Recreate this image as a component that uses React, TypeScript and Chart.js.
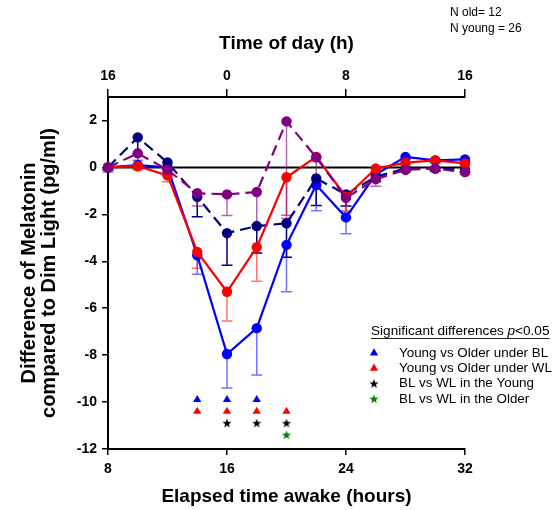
import { useEffect, useRef } from 'react';
import { Chart, registerables } from 'chart.js';

Chart.register(...registerables);

const FONT = "'Liberation Sans', Arial, Helvetica, sans-serif";

// Elapsed time awake (hours)
const hours = [8, 10, 12, 14, 16, 18, 20, 22, 24, 26, 28, 30, 32];

// Series (difference vs dim light, pg/ml) and one-sided (downward) error bars
const youngBL = [0, 0.1, 0.0, -3.75, -7.95, -6.85, -3.3, -0.75, -2.13, -0.3, 0.45, 0.3, 0.34];
const youngBLErr = [0.2, 0.1, 0.2, 0.8, 1.45, 2.0, 2.0, 1.1, 0.7, 0.2, 0.1, 0.1, 0.1];
const youngWL = [0, 0.05, -0.34, -3.6, -5.3, -3.4, -0.42, 0.45, -1.25, -0.05, 0.2, 0.3, 0.17];
const youngWLErr = [0.1, 0.15, 0.27, 0.7, 1.25, 1.45, 1.75, 0.2, 0.6, 0.15, 0.1, 0.1, 0.1];
const olderBL = [0, 1.28, 0.21, -1.25, -2.8, -2.5, -2.38, -0.47, -1.15, -0.4, -0.05, -0.05, -0.1];
const olderBLErr = [0.1, 0.7, 0.3, 0.85, 1.37, 1.15, 1.45, 1.15, 0.5, 0.2, 0.1, 0.1, 0.1];
const olderWL = [0, 0.6, -0.1, -1.1, -1.15, -1.05, 1.96, 0.43, -1.3, -0.5, -0.1, -0.05, -0.2];
const olderWLErr = [0.1, 0.3, 0.2, 0.55, 0.9, 1.4, 4.0, 1.0, 0.6, 0.3, 0.1, 0.1, 0.1];

// Significance markers (p<0.05)
const sigYoungOlderBLHours = [14, 16, 18];
const sigYoungOlderBLLevel = -9.9;
const sigYoungOlderWLHours = [14, 16, 18, 20];
const sigYoungOlderWLLevel = -10.4;
const sigBLWLYoungHours = [16, 18, 20];
const sigBLWLYoungLevel = -10.9;
const sigBLWLOlderHours = [20];
const sigBLWLOlderLevel = -11.4;

// Axis ticks
const xTickStep = 8;
const yTickStep = 2;
const yMin = -12;
const yMax = 3;
const yTickTop = 2;

const legendItems = [
  { label: 'Young vs Older under BL', kind: 'tri', color: '#0000ff' },
  { label: 'Young vs Older under WL', kind: 'tri', color: '#ff0000' },
  { label: 'BL vs WL in the Young', kind: 'star', color: '#000000' },
  { label: 'BL vs WL in the Older', kind: 'star', color: '#008000' },
];

function makeStar(color: string): HTMLCanvasElement {
  const c = document.createElement('canvas');
  c.width = 10;
  c.height = 10;
  const g = c.getContext('2d')!;
  g.fillStyle = color;
  g.beginPath();
  for (let k = 0; k < 10; k++) {
    const r = k % 2 === 0 ? 4.8 : 2.0;
    const a = -Math.PI / 2 + (k * Math.PI) / 5;
    const px = 5 + r * Math.cos(a);
    const py = 5.3 + r * Math.sin(a);
    if (k === 0) g.moveTo(px, py);
    else g.lineTo(px, py);
  }
  g.closePath();
  g.fill();
  return c;
}

const pts = (ys: number[]) => hours.map((h, i) => ({ x: h, y: ys[i] }));
const sigPts = (xs: number[], level: number) => xs.map((h) => ({ x: h, y: level }));

export default function App() {
  const ref = useRef<HTMLCanvasElement>(null);

  useEffect(() => {
    const canvas = ref.current!;
    const blackStar = makeStar('#000000');
    const greenStar = makeStar('#008000');

    const errorBars = {
      id: 'errorBars',
      beforeDatasetsDraw(chart: any) {
        const ctx = chart.ctx;
        const ys = chart.scales.y;
        const area = chart.chartArea;
        // zero line
        ctx.save();
        ctx.strokeStyle = '#000';
        ctx.lineWidth = 2;
        const y0 = ys.getPixelForValue(0);
        ctx.beginPath();
        ctx.moveTo(area.left, y0);
        ctx.lineTo(area.right, y0);
        ctx.stroke();
        ctx.restore();
        const dsList = chart.data.datasets;
        for (let i = dsList.length - 1; i >= 0; i--) {
          const ds = dsList[i];
          if (!ds.errors) continue;
          const meta = chart.getDatasetMeta(i);
          ctx.save();
          ctx.strokeStyle = ds.errorColor;
          ctx.lineWidth = 1.5;
          meta.data.forEach((pt: any, j: number) => {
            const v = ds.data[j].y;
            const e = ds.errors[j];
            const a = ys.getPixelForValue(v);
            const b = ys.getPixelForValue(v - e);
            ctx.beginPath();
            ctx.moveTo(pt.x, a);
            ctx.lineTo(pt.x, b);
            ctx.moveTo(pt.x - 5.5, b);
            ctx.lineTo(pt.x + 5.5, b);
            ctx.stroke();
          });
          ctx.restore();
        }
      },
    };

    const annotations = {
      id: 'annotations',
      afterDraw(chart: any) {
        const ctx = chart.ctx;
        ctx.save();
        ctx.fillStyle = '#000';
        ctx.textBaseline = 'middle';
        ctx.textAlign = 'left';
        ctx.font = `12px ${FONT}`;
        ctx.fillText('N old= 12', 450, 13);
        ctx.fillText('N young = 26', 450, 29);

        // legend title
        const tx = 371;
        const ty = 331;
        ctx.font = `13.6px ${FONT}`;
        const p1 = 'Significant differences ';
        ctx.fillText(p1, tx, ty);
        let w = ctx.measureText(p1).width;
        ctx.font = `italic 13.6px ${FONT}`;
        ctx.fillText('p', tx + w, ty);
        w += ctx.measureText('p').width;
        ctx.font = `13.6px ${FONT}`;
        ctx.fillText('<0.05', tx + w, ty);
        w += ctx.measureText('<0.05').width;
        ctx.strokeStyle = '#222';
        ctx.lineWidth = 1;
        ctx.beginPath();
        ctx.moveTo(tx, ty + 7.5);
        ctx.lineTo(tx + w, ty + 7.5);
        ctx.stroke();

        ctx.font = `13.4px ${FONT}`;
        legendItems.forEach((it, k) => {
          const cy = 353 + k * 15.3;
          const cx = 374;
          if (it.kind === 'tri') {
            const r = 4.8;
            ctx.fillStyle = it.color;
            ctx.beginPath();
            ctx.moveTo(cx, cy - r);
            ctx.lineTo(cx + r * 0.866, cy + r * 0.5);
            ctx.lineTo(cx - r * 0.866, cy + r * 0.5);
            ctx.closePath();
            ctx.fill();
          } else {
            const img = it.color === '#000000' ? blackStar : greenStar;
            ctx.drawImage(img, cx - img.width / 2, cy - img.height / 2);
          }
          ctx.fillStyle = '#000';
          ctx.fillText(it.label, 399, cy);
        });
        ctx.restore();
      },
    };

    const tickFont = { family: FONT, size: 14, weight: 'bold' as const };
    const titleFont = { family: FONT, size: 19, weight: 'bold' as const };

    const lineDs = (label: string, ys: number[], errs: number[], color: string, errColor: string, dashed: boolean) => ({
      type: 'line' as const,
      label,
      data: pts(ys),
      errors: errs,
      errorColor: errColor,
      borderColor: color,
      backgroundColor: color,
      pointBackgroundColor: color,
      pointBorderColor: color,
      borderWidth: 2.2,
      borderDash: dashed ? [11, 6] : [],
      pointRadius: 5.2,
      pointBorderWidth: 0,
      tension: 0,
      clip: false as any,
    });

    const chart = new Chart(canvas, {
      type: 'line',
      data: {
        datasets: [
          {
            type: 'scatter' as any,
            label: 'Young vs Older under BL',
            data: sigPts(sigYoungOlderBLHours, sigYoungOlderBLLevel),
            pointStyle: 'triangle',
            pointRadius: 4.8,
            pointBorderWidth: 0,
            backgroundColor: '#0000ff',
            borderColor: '#0000ff',
            showLine: false,
          },
          {
            type: 'scatter' as any,
            label: 'Young vs Older under WL',
            data: sigPts(sigYoungOlderWLHours, sigYoungOlderWLLevel),
            pointStyle: 'triangle',
            pointRadius: 4.8,
            pointBorderWidth: 0,
            backgroundColor: '#ff0000',
            borderColor: '#ff0000',
            showLine: false,
          },
          {
            type: 'scatter' as any,
            label: 'BL vs WL in the Young',
            data: sigPts(sigBLWLYoungHours, sigBLWLYoungLevel),
            pointStyle: blackStar as any,
            showLine: false,
          },
          {
            type: 'scatter' as any,
            label: 'BL vs WL in the Older',
            data: sigPts(sigBLWLOlderHours, sigBLWLOlderLevel),
            pointStyle: greenStar as any,
            showLine: false,
          },
          lineDs('Older WL', olderWL, olderWLErr, '#800080', 'rgba(128,0,128,0.6)', true),
          lineDs('Young WL', youngWL, youngWLErr, '#ff0000', 'rgba(255,0,0,0.55)', false),
          lineDs('Older BL', olderBL, olderBLErr, '#000080', '#000080', true),
          lineDs('Young BL', youngBL, youngBLErr, '#0000ff', 'rgba(0,0,255,0.55)', false),
        ] as any,
      },
      options: {
        animation: false,
        responsive: false,
        layout: { padding: { left: 0, right: 91, top: 0, bottom: 0 } },
        plugins: {
          legend: { display: false },
          tooltip: { enabled: false },
        },
        scales: {
          x: {
            type: 'linear',
            position: 'bottom',
            min: 8,
            max: 32,
            ticks: { stepSize: xTickStep, font: tickFont, color: '#000', padding: 6, maxRotation: 0 },
            grid: { display: true, drawOnChartArea: false, drawTicks: true, tickLength: 6, color: '#000', lineWidth: 1.5 },
            border: { display: true, color: '#000', width: 2 },
            title: {
              display: true,
              text: 'Elapsed time awake (hours)',
              font: titleFont,
              color: '#000',
              padding: { top: 0, bottom: 2 },
            },
            afterFit: (s: any) => {
              s.height = 61;
            },
          },
          x2: {
            type: 'linear',
            position: 'top',
            min: 8,
            max: 32,
            ticks: {
              stepSize: xTickStep,
              font: tickFont,
              color: '#000',
              padding: 4,
              maxRotation: 0,
              callback: (v: any) => String((Number(v) + 8) % 24),
            },
            grid: { display: true, drawOnChartArea: false, drawTicks: true, tickLength: 8, color: '#000', lineWidth: 1.5 },
            border: { display: true, color: '#000', width: 2 },
            title: {
              display: true,
              text: 'Time of day (h)',
              font: titleFont,
              color: '#000',
              padding: { top: 32, bottom: 0 },
            },
            afterFit: (s: any) => {
              s.height = 97;
            },
          },
          y: {
            type: 'linear',
            min: yMin,
            max: yMax,
            ticks: { stepSize: yTickStep, font: tickFont, color: '#000', padding: 5 },
            afterBuildTicks: (s: any) => {
              s.ticks = s.ticks.filter((t: any) => t.value <= yTickTop);
            },
            grid: { display: true, drawOnChartArea: false, drawTicks: true, tickLength: 6, color: '#000', lineWidth: 1.5 },
            border: { display: true, color: '#000', width: 2 },
            title: {
              display: true,
              text: ['Difference of Melatonin', 'compared to Dim Light (pg/ml)'],
              font: { family: FONT, size: 20, weight: 'bold', lineHeight: 1.0 },
              color: '#000',
              padding: { top: 19, bottom: 0 },
            },
            afterFit: (s: any) => {
              s.width = 108;
            },
          },
        },
      } as any,
      plugins: [errorBars, annotations],
    });

    return () => chart.destroy();
  }, []);

  return (
    <div style={{ position: 'absolute', left: 0, top: 0, width: 556, height: 510, background: '#fff' }}>
      <canvas ref={ref} width={556} height={510} style={{ display: 'block', width: 556, height: 510 }} />
    </div>
  );
}
